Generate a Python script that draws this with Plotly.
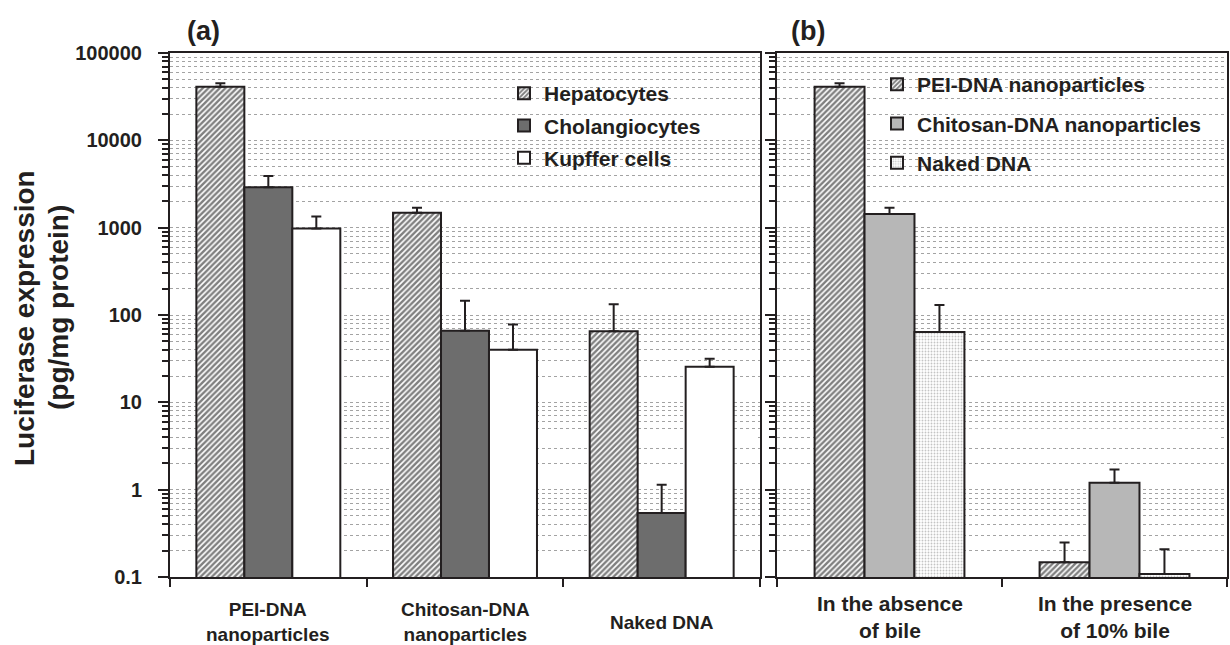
import plotly.graph_objects as go

# ---- data -------------------------------------------------------------
# (a) luciferase expression by liver cell type
cell_groups = ["PEI-DNA<br>nanoparticles", "Chitosan-DNA<br>nanoparticles", "Naked DNA"]
hepatocytes = [41000, 1480, 65]
hepatocytes_err = [4000, 210, 68]
cholangiocytes = [2900, 66, 0.54]
cholangiocytes_err = [1000, 80, 0.6]
kupffer_cells = [980, 40, 25.5]
kupffer_cells_err = [360, 38, 6]

# (b) hepatocyte expression with and without bile
bile_groups = ["In the absence<br>of bile", "In the presence<br>of 10% bile"]
pei_dna = [41000, 0.148]
pei_dna_err = [4000, 0.1]
chitosan_dna = [1430, 1.2]
chitosan_dna_err = [260, 0.5]
naked_dna = [64, 0.108]
naked_dna_err = [66, 0.1]

y_tick_values = [0.1, 1, 10, 100, 1000, 10000, 100000]
y_tick_labels = ["0.1", "1", "10", "100", "1000", "10000", "100000"]

# ---- styling ------------------------------------------------------------
W, H = 1230, 645
FONT = "Liberation Sans, Arial, sans-serif"
INK = "#231f20"
GRID = "#a3a3a3"

# plot-area geometry in pixels
PA_X = (170, 760)
PB_X = (777, 1227)
P_TOP, P_BOT = 53, 577
Y_LOG = (-1, 5)

HATCH = dict(shape="/", fgcolor="#000000", bgcolor="white", size=4, solidity=0.6)
DOTS = dict(shape=".", fgcolor="#8a8a8a", bgcolor="white", size=3, solidity=0.3)
NO_PATTERN = dict(shape="")


def px_x(p):
    return p / W


def px_y(p):
    return 1 - p / H


def cat_coord(p, span, n):
    """pixel x -> category-axis coordinate"""
    return (p - span[0]) / ((span[1] - span[0]) / n) - 0.5


def log_coord(p):
    """pixel y -> log10 axis coordinate"""
    per_decade = (P_BOT - P_TOP) / (Y_LOG[1] - Y_LOG[0])
    return Y_LOG[1] - (p - P_TOP) / per_decade


def bar(name, cats, vals, errs, fill, pattern, axes, legend, slot, width):
    return go.Bar(
        x=cats, y=vals, name=name,
        xaxis=axes[0], yaxis=axes[1],
        legend=legend, legendgroup=name,
        width=width, offset=(slot - 1.5) * width,
        marker=dict(color=fill, pattern=pattern, line=dict(color=INK, width=2)),
        error_y=dict(type="data", array=errs, arrayminus=[0] * len(errs),
                     symmetric=False, color=INK, thickness=2, width=5),
    )


wa = 0.244   # bar width in panel (a), category units
wb = 0.222   # bar width in panel (b)

traces = [
    bar("Hepatocytes", cell_groups, hepatocytes, hepatocytes_err, "white", HATCH, ("x", "y"), "legend", 0, wa),
    bar("Cholangiocytes", cell_groups, cholangiocytes, cholangiocytes_err, "#6d6d6d", NO_PATTERN, ("x", "y"), "legend", 1, wa),
    bar("Kupffer cells", cell_groups, kupffer_cells, kupffer_cells_err, "white", NO_PATTERN, ("x", "y"), "legend", 2, wa),
    bar("PEI-DNA nanoparticles", bile_groups, pei_dna, pei_dna_err, "white", HATCH, ("x2", "y2"), "legend2", 0, wb),
    bar("Chitosan-DNA nanoparticles", bile_groups, chitosan_dna, chitosan_dna_err, "#b7b7b7", NO_PATTERN, ("x2", "y2"), "legend2", 1, wb),
    bar("Naked DNA", bile_groups, naked_dna, naked_dna_err, "white", DOTS, ("x2", "y2"), "legend2", 2, wb),
]

fig = go.Figure(traces)

minor_vals = [m * 10.0 ** e for e in range(-1, 5) for m in range(2, 10)]
bold = dict(family=FONT, color=INK, weight="bold")


def y_axis(anchor, labels):
    return dict(
        type="log", range=list(Y_LOG), domain=[1 - P_BOT / H, 1 - P_TOP / H], anchor=anchor,
        automargin=False,
        tickmode="array", tickvals=y_tick_values, ticktext=y_tick_labels,
        showticklabels=labels, tickfont=dict(size=20, **bold), ticklabelstandoff=12,
        ticks="outside", ticklen=10, tickwidth=2, tickcolor=INK,
        showline=True, linewidth=2, linecolor=INK, mirror=True,
        showgrid=True, gridcolor=GRID, gridwidth=1, griddash="dot", zeroline=False,
        minor=dict(tickmode="array", tickvals=minor_vals, ticks="outside", ticklen=6,
                   tickwidth=1.5, tickcolor=INK, showgrid=True, gridcolor=GRID,
                   gridwidth=1, griddash="dot"),
        fixedrange=True,
    )


def x_axis(anchor, span, n):
    return dict(
        type="category", domain=[span[0] / W, span[1] / W], anchor=anchor,
        range=[-0.5, n - 0.5], automargin=False,
        showline=True, linewidth=2, linecolor=INK, mirror=True,
        ticks="outside", tickson="boundaries", ticklen=8, tickwidth=2, tickcolor=INK,
        showticklabels=False, showgrid=False, zeroline=False, fixedrange=True,
    )


legend_common = dict(
    xanchor="left", yanchor="top", bgcolor="rgba(0,0,0,0)", borderwidth=0,
    font=dict(size=21, **bold), traceorder="grouped", itemclick=False,
    itemdoubleclick=False,
)


def label(text, x, y, size, xref="paper", angle=0):
    return dict(text=text, x=x, y=y, xref=xref, yref="paper", showarrow=False,
                xanchor="center", yanchor="middle", textangle=angle,
                font=dict(size=size, **bold))


annotations = []
# category labels under each panel
for cat in cell_groups:
    annotations.append(label(cat, cat, px_y(622), 19, xref="x"))
for cat in bile_groups:
    annotations.append(label(cat, cat, px_y(617), 21, xref="x2"))
# panel letters
annotations.append(label("(a)", px_x(203), px_y(31), 27))
annotations.append(label("(b)", px_x(808), px_y(31), 27))
# y-axis title, two lines
annotations.append(label("Luciferase expression", px_x(24), px_y(318), 28, angle=-90))
annotations.append(label("(pg/mg protein)", px_x(58), px_y(308), 28, angle=-90))

# white backing behind each legend so the grid stops there
shapes = [
    dict(type="rect", xref="x", yref="y",
         x0=cat_coord(495, PA_X, 3), x1=cat_coord(758, PA_X, 3),
         y0=log_coord(183), y1=log_coord(69),
         fillcolor="white", line=dict(width=0), layer="between"),
    dict(type="rect", xref="x2", yref="y2",
         x0=cat_coord(872, PB_X, 2), x1=cat_coord(1221, PB_X, 2),
         y0=log_coord(182), y1=log_coord(55),
         fillcolor="white", line=dict(width=0), layer="between"),
]

fig.update_layout(
    width=W, height=H,
    margin=dict(l=0, r=0, t=0, b=0, autoexpand=False),
    paper_bgcolor="white", plot_bgcolor="white",
    barmode="group",
    font=dict(family=FONT, color=INK),
    xaxis=x_axis("y", PA_X, len(cell_groups)),
    xaxis2=x_axis("y2", PB_X, len(bile_groups)),
    yaxis=y_axis("x", True),
    yaxis2=y_axis("x2", False),
    legend=dict(x=px_x(504), y=px_y(73), tracegroupgap=2, **legend_common),
    legend2=dict(x=px_x(877), y=px_y(64), tracegroupgap=9, **legend_common),
    showlegend=True,
    annotations=annotations,
    shapes=shapes,
    hovermode=False,
)

fig.write_html("out.html")
